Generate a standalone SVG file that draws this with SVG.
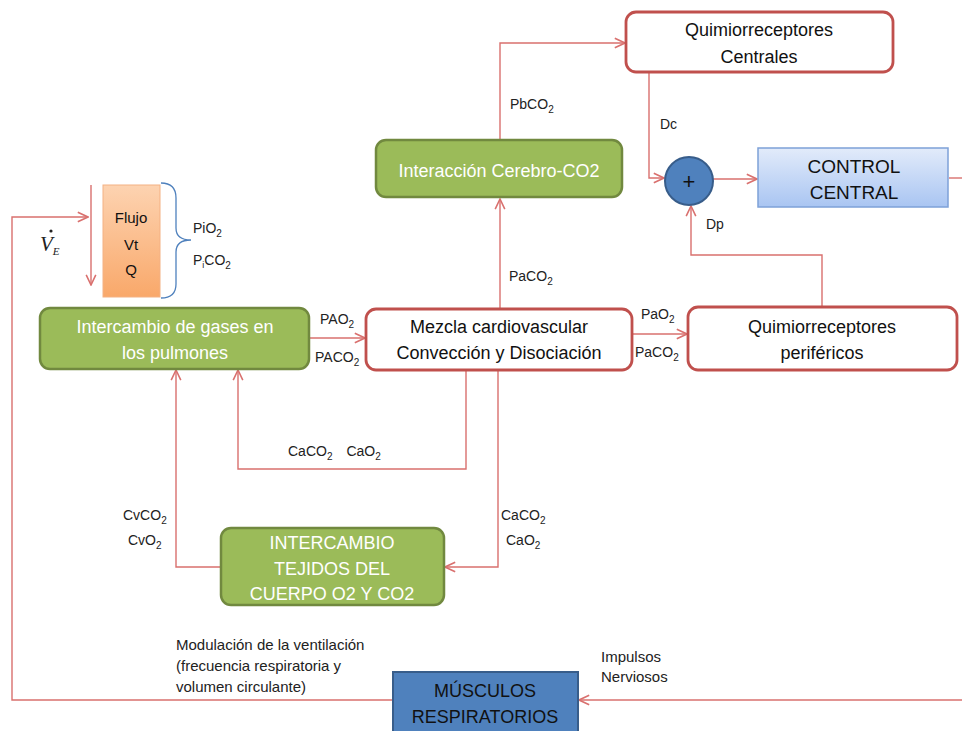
<svg xmlns="http://www.w3.org/2000/svg" width="962" height="731" viewBox="0 0 962 731">
<defs>
<style>
.ln{fill:none;stroke:#D9706E;stroke-width:1.4}
.rn{fill:#fff;stroke:#C0504D;stroke-width:2.8}
.gn{fill:#9BBB59;stroke:#71893F;stroke-width:2.5}
.bn{fill:#4F81BD;stroke:#385D8A;stroke-width:2}
.t{font-family:"Liberation Sans",Arial,sans-serif;text-anchor:middle}
.bk{fill:#111;font-size:18px}
.wt{fill:#fff;font-size:18px}
.sm{font-family:"Liberation Sans",Arial,sans-serif;font-size:14px;fill:#222}
.nar{font-family:"Liberation Sans Narrow","Liberation Sans",Arial,sans-serif;font-size:15px;fill:#222}
</style>
<marker id="ar" viewBox="0 0 10 10" refX="9.5" refY="5" markerWidth="12" markerHeight="12" markerUnits="userSpaceOnUse" orient="auto">
<path d="M1,1 L9.5,5 L1,9" fill="none" stroke="#D9706E" stroke-width="1.3"/>
</marker>
<linearGradient id="og" x1="0" y1="0" x2="0" y2="1">
<stop offset="0" stop-color="#FDD3B1"/><stop offset="1" stop-color="#F9A86A"/>
</linearGradient>
<linearGradient id="cg" x1="0" y1="0" x2="0" y2="1">
<stop offset="0" stop-color="#E2EBFA"/><stop offset="1" stop-color="#A9C5F2"/>
</linearGradient>
</defs>

<g id="connectors">
<polyline class="ln" points="500,140 500,43 625,43" marker-end="url(#ar)"/>
<polyline class="ln" points="500,308 500,199" marker-end="url(#ar)"/>
<polyline class="ln" points="649,73 649,178 664,178" marker-end="url(#ar)"/>
<polyline class="ln" points="822,306 822,255 691,255 691,206" marker-end="url(#ar)"/>
<polyline class="ln" points="713,179 757,179" marker-end="url(#ar)"/>
<polyline class="ln" points="949,178 962,178"/>
<polyline class="ln" points="962,700 579,700" marker-end="url(#ar)"/>
<polyline class="ln" points="392,700 12,700 12,217 88,217" marker-end="url(#ar)"/>
<polyline class="ln" points="91,185 91,285" marker-end="url(#ar)"/>
<polyline class="ln" points="310,338 365,338" marker-end="url(#ar)"/>
<polyline class="ln" points="633,334 687,334" marker-end="url(#ar)"/>
<polyline class="ln" points="466,371 466,469 238,469 238,370" marker-end="url(#ar)"/>
<polyline class="ln" points="498,371 498,567 445,567" marker-end="url(#ar)"/>
<polyline class="ln" points="220,567 176,567 176,370" marker-end="url(#ar)"/>
<path d="M161,183 Q176,183 176,198 L176,228 Q176,240 191,240 Q176,240 176,252 L176,284 Q176,298 161,298" fill="none" stroke="#4F81BD" stroke-width="1.3"/>
</g>

<g id="centrales">
<rect class="rn" x="626" y="12" width="267" height="60" rx="10"/>
<text class="t bk" x="759" y="36">Quimiorreceptores</text>
<text class="t bk" x="759" y="63">Centrales</text>
</g>

<g id="interaccion">
<rect class="gn" x="376" y="140" width="246" height="57" rx="10"/>
<text class="t wt" x="499" y="177" font-size="17.5">Interacción Cerebro-CO2</text>
</g>

<g id="suma">
<circle class="bn" cx="689" cy="181" r="24"/>
<text class="t" x="689" y="189" font-size="22" fill="#111">+</text>
</g>

<g id="control">
<rect x="758" y="148" width="190" height="59" fill="url(#cg)" stroke="#7EA1D8" stroke-width="1.5"/>
<text class="t" x="854" y="173" font-size="19" fill="#111">CONTROL</text>
<text class="t" x="854" y="199" font-size="19" fill="#111">CENTRAL</text>
</g>

<g id="flujo">
<rect x="103" y="185" width="57" height="112" fill="url(#og)" stroke="#F4B183" stroke-width="1"/>
<text class="t" x="131" y="223" font-size="15" fill="#111">Flujo</text>
<text class="t" x="131" y="250" font-size="15" fill="#111">Vt</text>
<text class="t" x="131" y="275" font-size="15" fill="#111">Q</text>
</g>

<g id="pulmones">
<rect class="gn" x="40" y="308" width="269" height="61" rx="10"/>
<text class="t wt" x="175" y="333">Intercambio de gases en</text>
<text class="t wt" x="175" y="359">los pulmones</text>
</g>

<g id="mezcla">
<rect class="rn" x="366" y="309" width="266" height="61" rx="10"/>
<text class="t bk" x="499" y="333">Mezcla cardiovascular</text>
<text class="t bk" x="499" y="359">Convección y Disociación</text>
</g>

<g id="perifericos">
<rect class="rn" x="688" y="307" width="269" height="63" rx="10"/>
<text class="t bk" x="822" y="333">Quimiorreceptores</text>
<text class="t bk" x="822" y="359">periféricos</text>
</g>

<g id="tejidos">
<rect class="gn" x="221" y="528" width="223" height="77" rx="10"/>
<text class="t wt" x="332" y="549">INTERCAMBIO</text>
<text class="t wt" x="332" y="575">TEJIDOS DEL</text>
<text class="t wt" x="332" y="600">CUERPO O2 Y CO2</text>
</g>

<g id="musculos">
<rect class="bn" x="393" y="672" width="185" height="64"/>
<text class="t" x="485" y="697" font-size="18" fill="#111">MÚSCULOS</text>
<text class="t" x="485" y="723" font-size="18" fill="#111">RESPIRATORIOS</text>
</g>

<g id="labels">
<text x="40" y="251" font-family="Liberation Serif,serif" font-style="italic" font-size="21" fill="#222">V<tspan font-size="11" dy="4">E</tspan></text>
<circle cx="51" cy="231" r="1.6" fill="#222"/>
<text class="sm" x="193" y="233">PiO<tspan font-size="10" dy="4">2</tspan></text>
<text class="sm" x="193" y="265">P<tspan font-size="9" dy="3">i</tspan><tspan dy="-3">CO</tspan><tspan font-size="10" dy="4">2</tspan></text>
<text class="sm" x="510" y="109">PbCO<tspan font-size="10" dy="4">2</tspan></text>
<text class="sm" x="660" y="129">Dc</text>
<text class="sm" x="706" y="229">Dp</text>
<text class="sm" x="509" y="281">PaCO<tspan font-size="10" dy="4">2</tspan></text>
<text class="sm" x="320" y="324">PAO<tspan font-size="10" dy="4">2</tspan></text>
<text class="sm" x="315" y="362">PACO<tspan font-size="10" dy="4">2</tspan></text>
<text class="sm" x="641" y="319">PaO<tspan font-size="10" dy="4">2</tspan></text>
<text class="sm" x="635" y="357">PaCO<tspan font-size="10" dy="4">2</tspan></text>
<text class="sm" x="288" y="456">CaCO<tspan font-size="10" dy="4">2</tspan><tspan dy="-4" dx="14">CaO</tspan><tspan font-size="10" dy="4">2</tspan></text>
<text class="sm" x="123" y="520">CvCO<tspan font-size="10" dy="4">2</tspan></text>
<text class="sm" x="128" y="545">CvO<tspan font-size="10" dy="4">2</tspan></text>
<text class="sm" x="501" y="520">CaCO<tspan font-size="10" dy="4">2</tspan></text>
<text class="sm" x="506" y="545">CaO<tspan font-size="10" dy="4">2</tspan></text>
<text class="nar" x="176" y="650">Modulación de la ventilación</text>
<text class="nar" x="176" y="671">(frecuencia respiratoria y</text>
<text class="nar" x="176" y="692">volumen circulante)</text>
<text class="nar" x="601" y="662">Impulsos</text>
<text class="nar" x="601" y="682">Nerviosos</text>
</g>
</svg>
